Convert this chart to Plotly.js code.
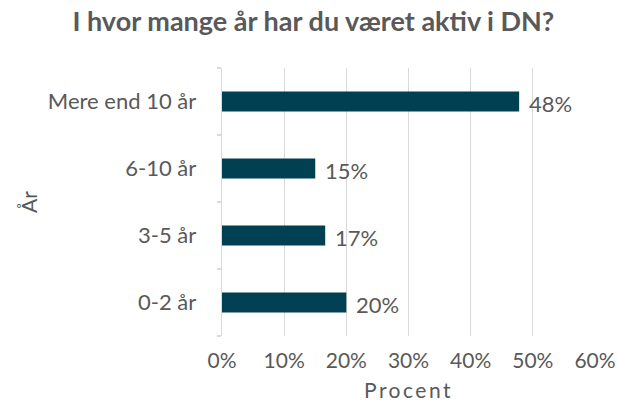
<!DOCTYPE html>
<html><head><meta charset="utf-8">
<script src="https://cdn.plot.ly/plotly-3.0.1.min.js"></script>
<style>html,body{margin:0;padding:0;background:#fff}#c{width:618px;height:414px}</style>
</head><body><div id="c"></div>
<script>
const categories = ["0-2 år", "3-5 år", "6-10 år", "Mere end 10 år"];
const values = [0.20, 0.166, 0.15, 0.478];
const xTicks = [0, 0.1, 0.2, 0.3, 0.4, 0.5, 0.6];
const xTickLabels = ["0%", "10%", "20%", "30%", "40%", "50%", "60%"];
const titleText = "I hvor mange år har du været aktiv i DN?";
const xTitle = "Procent";
const yTitle = "År";

const font = "Lato, 'Open Sans', sans-serif";
const grey = "#595959";
const fs = 21;

const trace = {
  type: "bar", orientation: "h",
  x: values, y: categories,
  marker: {color: "#013F52"},
  hoverinfo: "none"
};
const annotations = values.map((v, i) => ({
  x: v, y: categories[i], xref: "x", yref: "y",
  text: Math.round(v * 100) + "%",
  showarrow: false, xanchor: "left", xshift: 8, yshift: -2,
  font: {family: font, size: 22, color: grey}
}));

const layout = {
  width: 618, height: 414,
  margin: {l: 222, r: 23, t: 68, b: 78},
  paper_bgcolor: "#fff", plot_bgcolor: "#fff",
  bargap: 0.7,
  showlegend: false,
  title: {text: "<b>" + titleText + "</b>", x: 0.507, xanchor: "center", y: 0.948, yanchor: "middle",
          font: {family: font, size: 27, color: grey}},
  xaxis: {range: [0, 0.6], tickvals: xTicks, ticktext: xTickLabels,
          showgrid: true, gridcolor: "#d9d9d9", gridwidth: 1.3, zeroline: false,
          showline: false, ticks: "",
          ticklabelstandoff: 10,
          tickfont: {family: font, size: fs, color: grey},
          title: {text: "<span style='letter-spacing:2.5px'>" + xTitle + "</span>", standoff: 12, font: {family: font, size: fs, color: grey}}},
  yaxis: {type: "category", categoryorder: "array", categoryarray: categories,
          showline: true, linecolor: "#d9d9d9", linewidth: 1.3,
          ticks: "outside", tickson: "boundaries", ticklen: 4, tickcolor: "#d9d9d9", tickwidth: 1.3,
          ticklabelstandoff: 20,
          tickfont: {family: font, size: 22, color: grey},
          title: {text: yTitle, standoff: 4, font: {family: font, size: fs, color: grey}}},
  annotations: annotations
};
Plotly.newPlot("c", [trace], layout, {staticPlot: true, displayModeBar: false});
</script></body></html>
